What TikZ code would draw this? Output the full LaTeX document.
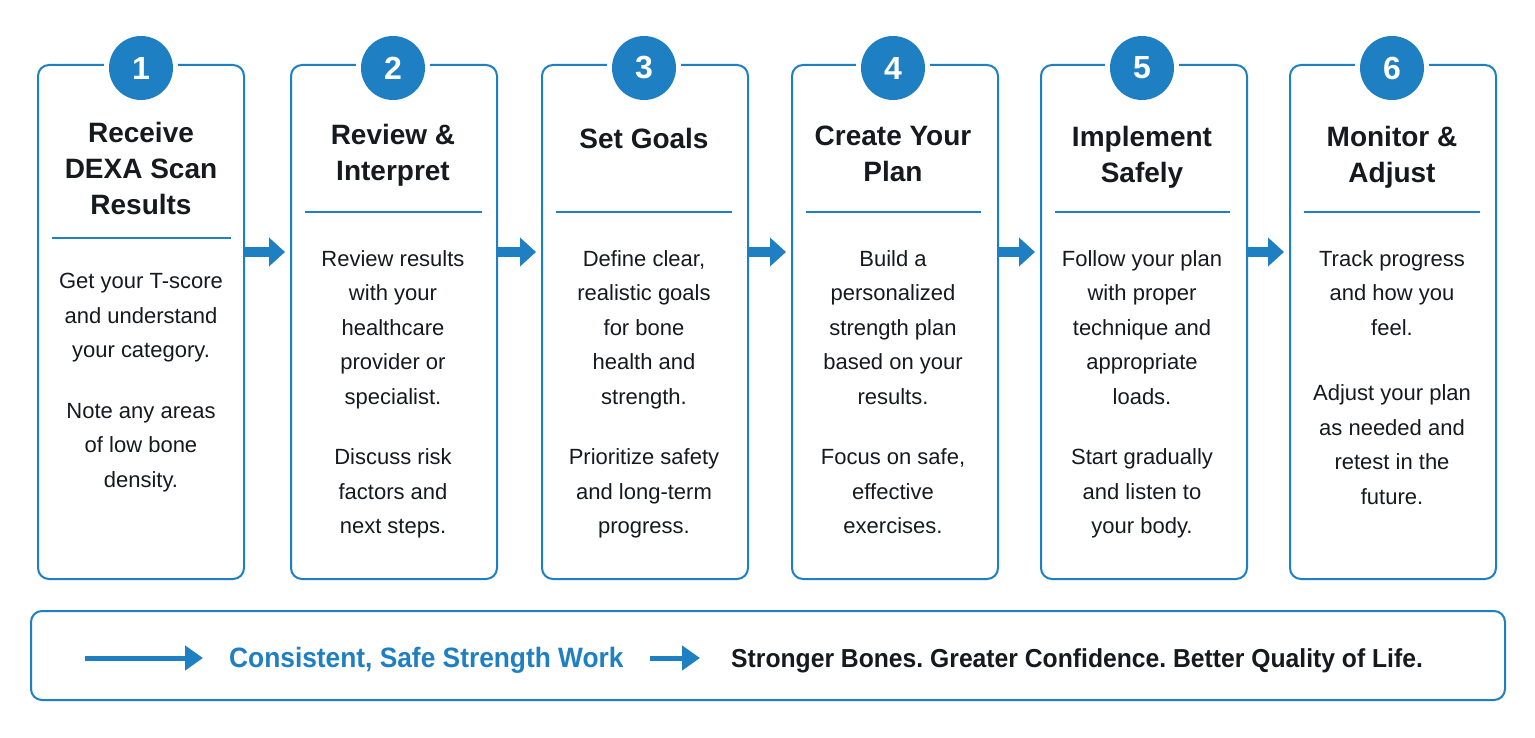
\documentclass[tikz,border=0pt]{standalone}
\usepackage{fontspec}
\setmainfont{Liberation Sans}
\newfontfamily\bluefont[FakeStretch=0.94]{Liberation Sans}
\newfontfamily\blackfont[FakeStretch=0.95]{Liberation Sans}
\usetikzlibrary{arrows.meta,calc}
\definecolor{myblue}{HTML}{1E7FC2}
\definecolor{ink}{HTML}{161A1F}
\frenchspacing
\begin{document}
\begin{tikzpicture}[x=1pt,y=-1pt,
  stepbox/.style={draw=myblue, line width=2pt, rounded corners=11pt, minimum width=206pt,
    minimum height=514pt, anchor=north west, inner sep=0pt, fill=white},
  numcirc/.style={circle, fill=myblue, minimum size=64pt, inner sep=0pt, text=white,
    font=\bfseries\fontsize{32}{32}\selectfont, preaction={draw=white, line width=10pt}},
  steptitle/.style={anchor=north, align=center, inner sep=0pt, text=ink,
    font=\bfseries\fontsize{28}{36}\selectfont},
  stepbody/.style={anchor=north, align=center, inner sep=0pt, text=ink,
    font=\fontsize{22}{34.5}\selectfont},
  sepline/.style={draw=myblue, line width=2pt},
  flow/.style={draw=myblue, line width=10pt, -{Triangle[length=16pt,width=28pt]}, shorten >=5pt},
  thinflow/.style={draw=myblue, line width=5pt, -{Triangle[length=18pt,width=24pt]}},
  bar/.style={draw=myblue, line width=2pt, rounded corners=11pt, minimum width=1474pt,
    minimum height=89pt, inner sep=0pt}
]
\useasboundingbox[fill=white] (0,0) rectangle (1535,738);

% boxes
\node[stepbox] (b1) at (37,64) {};
\node[stepbox] (b2) at (290,64) {};
\node[stepbox] (b3) at (541,64) {};
\node[stepbox] (b4) at (791,64) {};
\node[stepbox] (b5) at (1040,64) {};
\node[stepbox] (b6) at (1289,64) {};

% number circles
\node[numcirc] (c1) at (141,68) {1};
\node[numcirc] (c2) at (393,68) {2};
\node[numcirc] (c3) at (644,68) {3};
\node[numcirc] (c4) at (893,68) {4};
\node[numcirc] (c5) at (1142,68) {5};
\node[numcirc] (c6) at (1392,68) {6};

% titles
\node[steptitle] (t1) at (141,122) {Receive\\DEXA Scan\\Results};
\node[steptitle] (t2) at (393,124) {Review \&\\Interpret};
\node[steptitle] (t3) at (644,128) {Set Goals};
\node[steptitle] (t4) at (893,126) {Create Your\\Plan};
\node[steptitle] (t5) at (1142,126) {Implement\\Safely};
\node[steptitle] (t6) at (1392,126) {Monitor \&\\Adjust};

% separators
\draw[sepline] (52,238) -- (231,238);
\draw[sepline] (305,212) -- (482,212);
\draw[sepline] (556,212) -- (732,212);
\draw[sepline] (806,212) -- (981,212);
\draw[sepline] (1055,212) -- (1230,212);
\draw[sepline] (1304,212) -- (1480,212);

% bodies
\node[stepbody] (d1) at (141,273) {Get your T-score\\and understand\\your category.\\[26pt]Note any areas\\of low bone\\density.};
\node[stepbody] (d2) at (393,250) {Review results\\with your\\healthcare\\provider or\\specialist.\\[26pt]Discuss risk\\factors and\\next steps.};
\node[stepbody] (d3) at (644,250) {Define clear,\\realistic goals\\for bone\\health and\\strength.\\[26pt]Prioritize safety\\and long-term\\progress.};
\node[stepbody] (d4) at (893,250) {Build a\\personalized\\strength plan\\based on your\\results.\\[26pt]Focus on safe,\\effective\\exercises.};
\node[stepbody] (d5) at (1142,250) {Follow your plan\\with proper\\technique and\\appropriate\\loads.\\[26pt]Start gradually\\and listen to\\your body.};
\node[stepbody] (d6) at (1392,250) {Track progress\\and how you\\feel.\\[31pt]Adjust your plan\\as needed and\\retest in the\\future.};

% flow arrows between boxes
\draw[flow] ([yshift=-188pt]b1.north east) -- ([yshift=-188pt]b2.north west);
\draw[flow] ([yshift=-188pt]b2.north east) -- ([yshift=-188pt]b3.north west);
\draw[flow] ([yshift=-188pt]b3.north east) -- ([yshift=-188pt]b4.north west);
\draw[flow] ([yshift=-188pt]b4.north east) -- ([yshift=-188pt]b5.north west);
\draw[flow] ([yshift=-188pt]b5.north east) -- ([yshift=-188pt]b6.north west);

% bottom bar
\node[bar] (bar) at (768,655.5) {};
\coordinate (s0) at (85,658);
\node[anchor=base west, inner sep=0pt, text=myblue, font=\bluefont\bfseries\fontsize{28}{28}\selectfont]
  (cons) at (229,667) {Consistent, Safe Strength Work};
\node[anchor=base west, inner sep=0pt, text=ink, font=\blackfont\bfseries\fontsize{26}{26}\selectfont]
  (res) at (731,667) {Stronger Bones. Greater Confidence. Better Quality of Life.};
\draw[thinflow, shorten >=26pt] (s0) -- (s0 -| cons.west);
\draw[thinflow, shorten <=26pt, shorten >=31pt] (cons.east |- s0) -- (res.west |- s0);
\end{tikzpicture}
\end{document}
